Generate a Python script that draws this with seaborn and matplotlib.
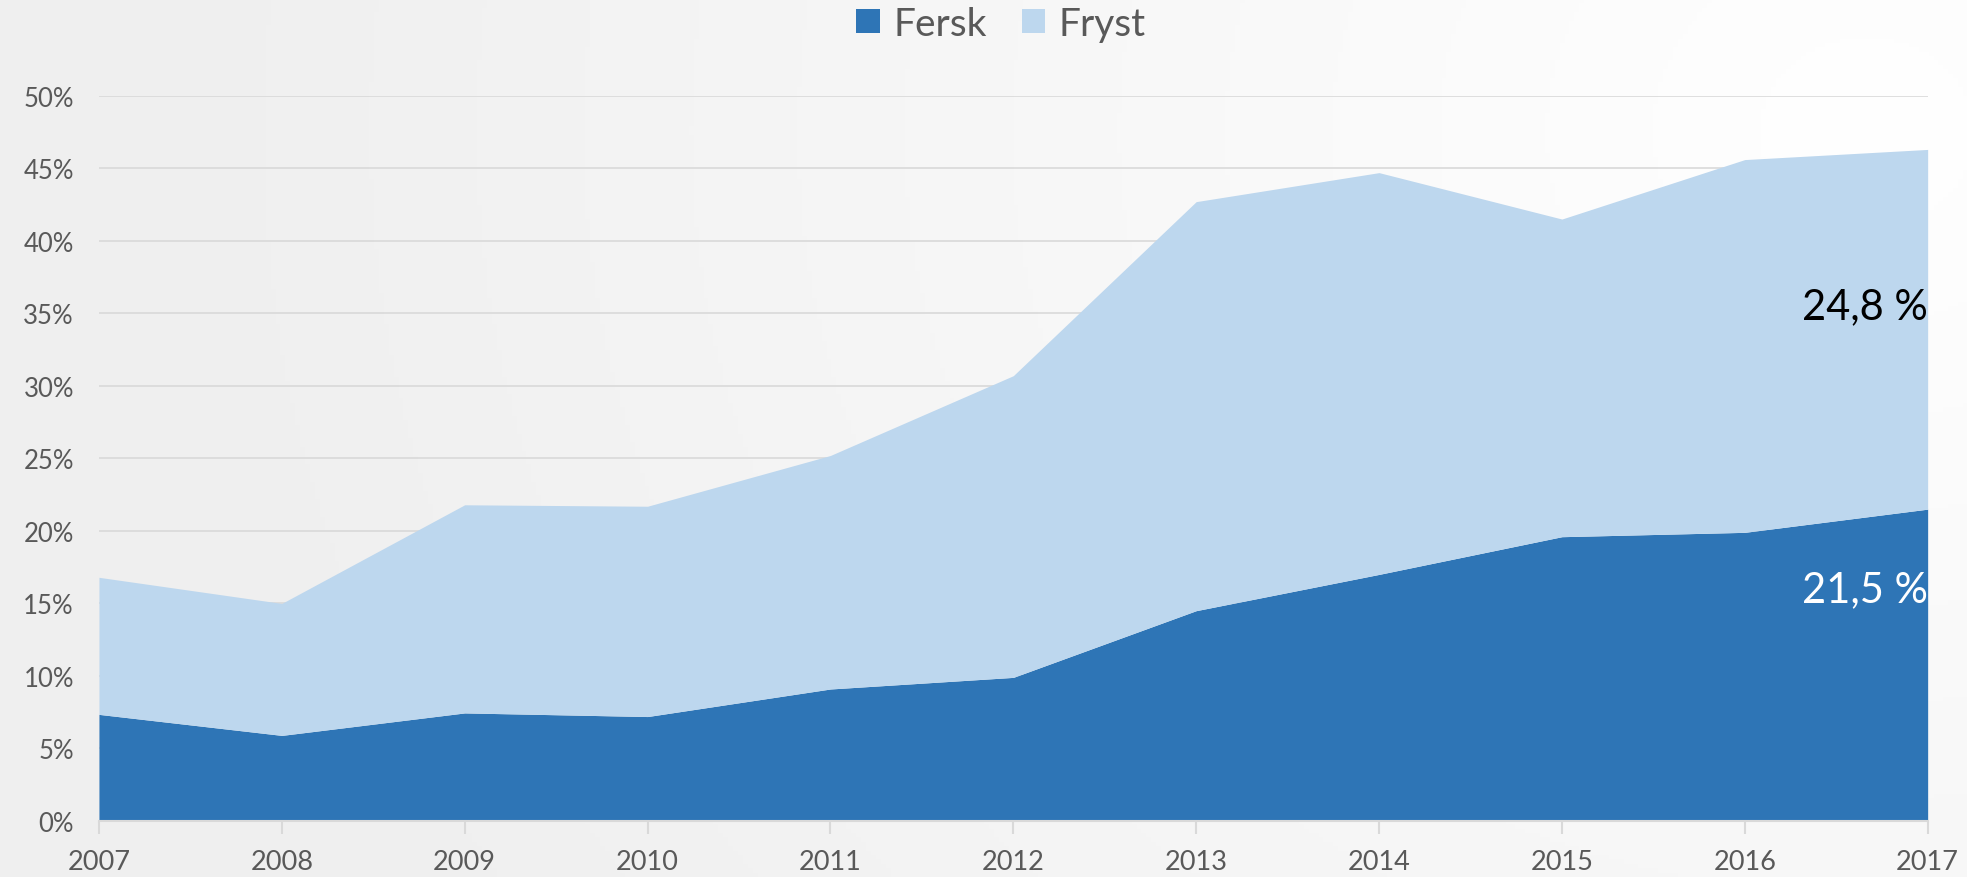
import numpy as np
import pandas as pd
import seaborn as sns
import matplotlib.pyplot as plt
from matplotlib.ticker import FuncFormatter

years = [2007, 2008, 2009, 2010, 2011, 2012, 2013, 2014, 2015, 2016, 2017]
fersk = [7.35, 5.9, 7.45, 7.2, 9.1, 9.9, 14.5, 17.0, 19.6, 19.9, 21.5]
fryst = [9.45, 9.1, 14.35, 14.5, 16.1, 20.8, 28.2, 27.7, 21.9, 25.7, 24.8]
labels = ["Fersk", "Fryst"]
end_labels = ["21,5 %", "24,8 %"]

df = pd.DataFrame({"year": years, "Fersk": fersk, "Fryst": fryst})

sns.set_theme(style="white")
plt.rcParams['font.family'] = ['Lato', 'DejaVu Sans']

col_fersk = "#2e75b6"
col_fryst = "#bdd7ee"
txt = "#595959"

fig = plt.figure(figsize=(19.67, 8.78), dpi=100)

# soft background gradient, lighter towards the top right
bg = fig.add_axes([0, 0, 1, 1], zorder=-10)
gx, gy = np.meshgrid(np.linspace(0, 1, 400), np.linspace(0, 1, 200))
dist = np.sqrt(((gx - 0.95) * 1.2) ** 2 + ((gy - 0.85) * 0.6) ** 2)
shade = 1.0 - 0.06 * np.clip(dist, 0, 1)
bg.imshow(np.dstack([shade] * 3), extent=[0, 1, 0, 1], origin="lower", aspect="auto")
bg.axis("off")

ax = fig.add_axes([0.0503, 0.0638, 0.9297, 0.826])
ax.patch.set_alpha(0)

ax.stackplot(df["year"], df["Fersk"], df["Fryst"], colors=[col_fersk, col_fryst],
             labels=labels, linewidth=0)

ax.set_xlim(2007, 2017)
ax.set_ylim(0, 50)
ax.set_yticks(range(0, 51, 5))
ax.yaxis.set_major_formatter(FuncFormatter(lambda v, p: f"{v:.0f}%"))
ax.set_xticks(years)
ax.grid(axis="y", color="#d9d9d9", linewidth=1.2, zorder=0)
ax.set_axisbelow(True)
for s in ["top", "right", "left"]:
    ax.spines[s].set_visible(False)
ax.spines["bottom"].set_color("#d9d9d9")
ax.spines["bottom"].set_linewidth(1.5)
ax.tick_params(axis="x", colors=txt, labelsize=19.5, length=9, width=1.5,
               color="#d9d9d9", direction="out", bottom=True, pad=11)
ax.tick_params(axis="y", colors=txt, labelsize=18.5, length=0, pad=18)

# value labels at the last year
top = fersk[-1] + fryst[-1]
ax.text(2017, fersk[-1] - 5.5, end_labels[0], color="white", fontsize=30,
        ha="right", va="center")
ax.text(2017, top - 10.8, end_labels[1], color="black", fontsize=30,
        ha="right", va="center")

handles, labs = ax.get_legend_handles_labels()
fig.legend(handles, labs, loc="center", bbox_to_anchor=(0.509, 0.972), ncol=2,
           frameon=False, fontsize=28, labelcolor=txt, handlelength=0.6,
           handleheight=0.6, handletextpad=0.35, columnspacing=0.9)

fig.savefig("out.png", dpi=100)
